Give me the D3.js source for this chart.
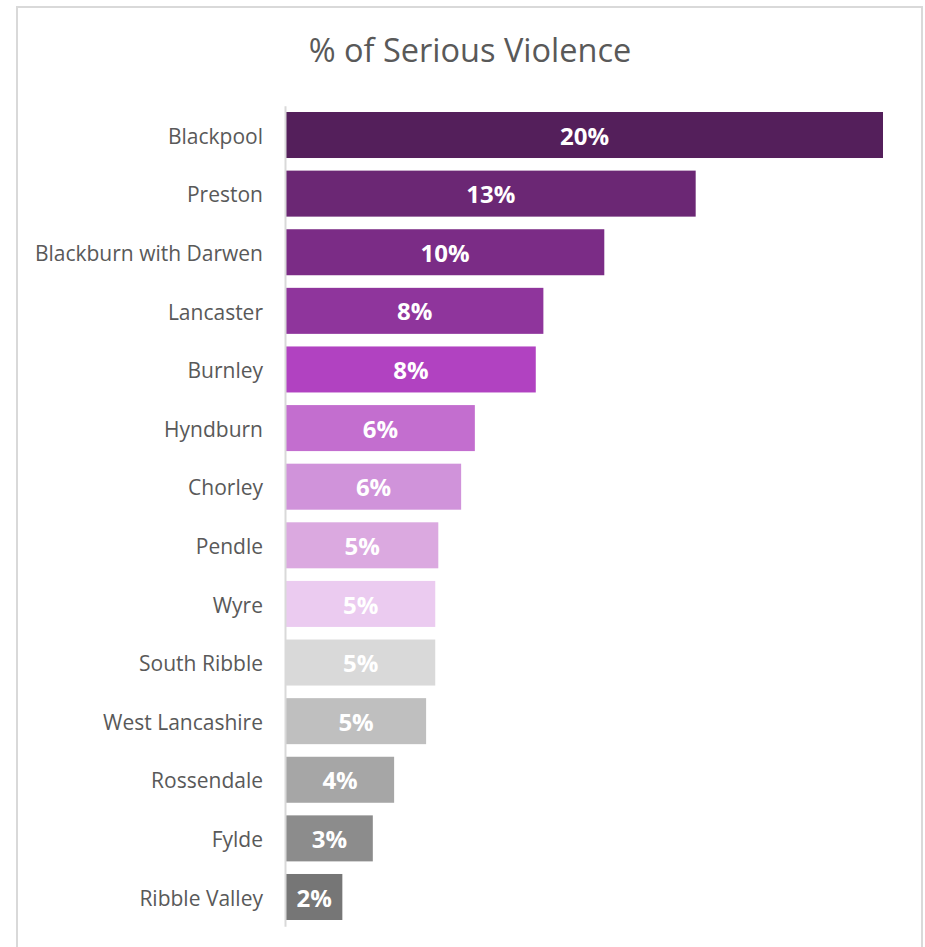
<!DOCTYPE html>
<html>
<head>
<meta charset="utf-8">
<script src="https://cdn.jsdelivr.net/npm/d3@7"></script>
<style>
  html, body { margin: 0; padding: 0; background: #fff; }
  svg { display: block; }
</style>
</head>
<body>
<svg id="chart" width="925" height="947"></svg>
<script>
// Share of serious violence by Lancashire district (%)
const districts = [
  "Blackpool", "Preston", "Blackburn with Darwen", "Lancaster", "Burnley",
  "Hyndburn", "Chorley", "Pendle", "Wyre", "South Ribble",
  "West Lancashire", "Rossendale", "Fylde", "Ribble Valley"
];
const shares = [19.6, 13.45, 10.45, 8.45, 8.2, 6.2, 5.75, 5.0, 4.9, 4.9, 4.6, 3.55, 2.85, 1.85];
const barColors = [
  "#541f5b", "#6b2774", "#7b2c86", "#8f359c", "#b142c1",
  "#c36ecf", "#d093da", "#dba9e0", "#ebcbf0", "#d9d9d9",
  "#bfbfbf", "#a6a6a6", "#8c8c8c", "#767676"
];
const chartTitle = "% of Serious Violence";

const svg = d3.select("#chart");
const font = "'Open Sans', 'Noto Sans', sans-serif";

// Outer frame
svg.append("rect")
  .attr("x", 17).attr("y", 7)
  .attr("width", 905).attr("height", 960)
  .attr("fill", "#fff")
  .attr("stroke", "#d9d9d9").attr("stroke-width", 2);

// Title
svg.append("text")
  .attr("x", 470).attr("y", 62)
  .attr("text-anchor", "middle")
  .attr("font-family", font)
  .attr("font-size", 32.5)
  .attr("fill", "#595959")
  .text(chartTitle);

const x0 = 286;
const x = d3.scaleLinear().domain([0, 19.6]).range([x0, 883]);
const y = d3.scaleBand()
  .domain(districts)
  .range([105.7, 926.3])
  .paddingInner(0.215)
  .paddingOuter(0.1075);

const data = districts.map((d, i) => ({ name: d, value: shares[i], color: barColors[i] }));

// Bars
svg.append("g").selectAll("rect")
  .data(data)
  .join("rect")
  .attr("x", x(0))
  .attr("y", d => y(d.name))
  .attr("width", d => x(d.value) - x(0))
  .attr("height", y.bandwidth())
  .attr("fill", d => d.color);

// Category axis
const yAxis = svg.append("g")
  .attr("transform", `translate(${x0 - 1},0)`)
  .call(d3.axisLeft(y).tickSize(0).tickPadding(22));
yAxis.select(".domain").attr("stroke", "#d9d9d9").attr("stroke-width", 2);
yAxis.selectAll("text")
  .attr("y", 2)
  .attr("font-family", font)
  .attr("font-size", 21)
  .attr("fill", "#595959");

// Value labels inside bars
svg.append("g").selectAll("text")
  .data(data)
  .join("text")
  .attr("x", d => (x(0) + x(d.value)) / 2)
  .attr("y", d => y(d.name) + y.bandwidth() / 2 + 1)
  .attr("dy", "0.36em")
  .attr("text-anchor", "middle")
  .attr("font-family", font)
  .attr("font-weight", 700)
  .attr("font-size", 24)
  .attr("fill", "#fff")
  .text(d => Math.round(d.value) + "%");
</script>
</body>
</html>
